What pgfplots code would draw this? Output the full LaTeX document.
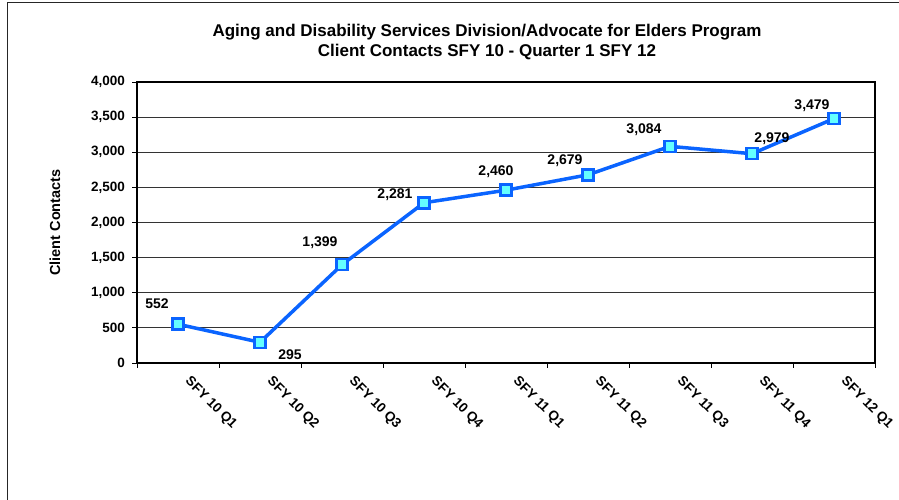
\documentclass[border=0pt]{standalone}
\usepackage{fontspec}
\setmainfont{Liberation Sans}
\usepackage{pgfplots}
\pgfplotsset{compat=1.18}
\definecolor{lineblue}{RGB}{10,100,255}
\definecolor{markfill}{RGB}{100,255,255}
\begin{document}
\begin{tikzpicture}
\path[use as bounding box] (0bp,0bp) rectangle (899bp,500bp);
\draw[line width=1bp, black!85] (7bp,0bp) -- (7bp,497bp) -- (899bp,497bp);
\node[font=\bfseries\fontsize{17bp}{20bp}\selectfont, align=center] at (487bp,458bp)
  {Aging and Disability Services Division/Advocate for Elders Program\\Client Contacts SFY 10 - Quarter 1 SFY 12};
\begin{axis}[
  at={(137bp,137bp)}, anchor=south west,
  scale only axis, width=738bp, height=281bp,
  xmin=-0.5, xmax=8.5, ymin=0, ymax=4000,
  ytick={0,500,...,4000},
  xtick={0,...,8},
  xticklabels={SFY 10 Q1,SFY 10 Q2,SFY 10 Q3,SFY 10 Q4,SFY 11 Q1,SFY 11 Q2,SFY 11 Q3,SFY 11 Q4,SFY 12 Q1},
  minor xtick={-0.5,0.5,...,8.5},
  xtick pos=bottom, ytick pos=left,
  major x tick style={draw=none},
  minor x tick style={draw=black, line width=0.8bp},
  minor tick length=5bp,
  ymajorgrids,
  grid style={line width=0.8bp, black!80},
  axis line style={line width=2.2bp, black},
  tick align=outside,
  major tick length=5bp,
  ytick style={line width=0.8bp, black},
  /pgf/number format/assume math mode=true,
  /pgf/number format/1000 sep={,},
  yticklabel style={font=\bfseries\fontsize{13.5bp}{15bp}\selectfont, inner sep=0pt, xshift=-7bp},
  xticklabel style={font=\bfseries\fontsize{13.5bp}{15bp}\selectfont, inner sep=0pt, xshift=13.5bp, yshift=-7bp, rotate=-45, anchor=north west},
  every axis y label/.style={at={(axis description cs:-0.1111,0.5)}, rotate=90, anchor=center, font=\bfseries\fontsize{14.5bp}{16bp}\selectfont},
  ylabel={Client Contacts},
  clip=false,
]
\addplot[color=lineblue, line width=3.5bp, mark=square*,
  mark options={fill=markfill, draw=lineblue, line width=2.5bp, mark size=5.5bp},
  point meta=y,
  visualization depends on={\thisrow{dx} \as \dx},
  visualization depends on={\thisrow{dy} \as \dy},
  nodes near coords,
  nodes near coords style={font=\bfseries\fontsize{14bp}{16bp}\selectfont, text=black, anchor=center, xshift=\dx bp, yshift=\dy bp},
] table[x=x, y=y] {
x y dx dy
0 552 -21 21
1 295 30 -12
2 1399 -22 22
3 2281 -29 8
4 2460 -10 18
5 2679 -23 14
6 3084 -26 17
7 2979 20 15
8 3479 -22 13
};
\end{axis}
\end{tikzpicture}
\end{document}
